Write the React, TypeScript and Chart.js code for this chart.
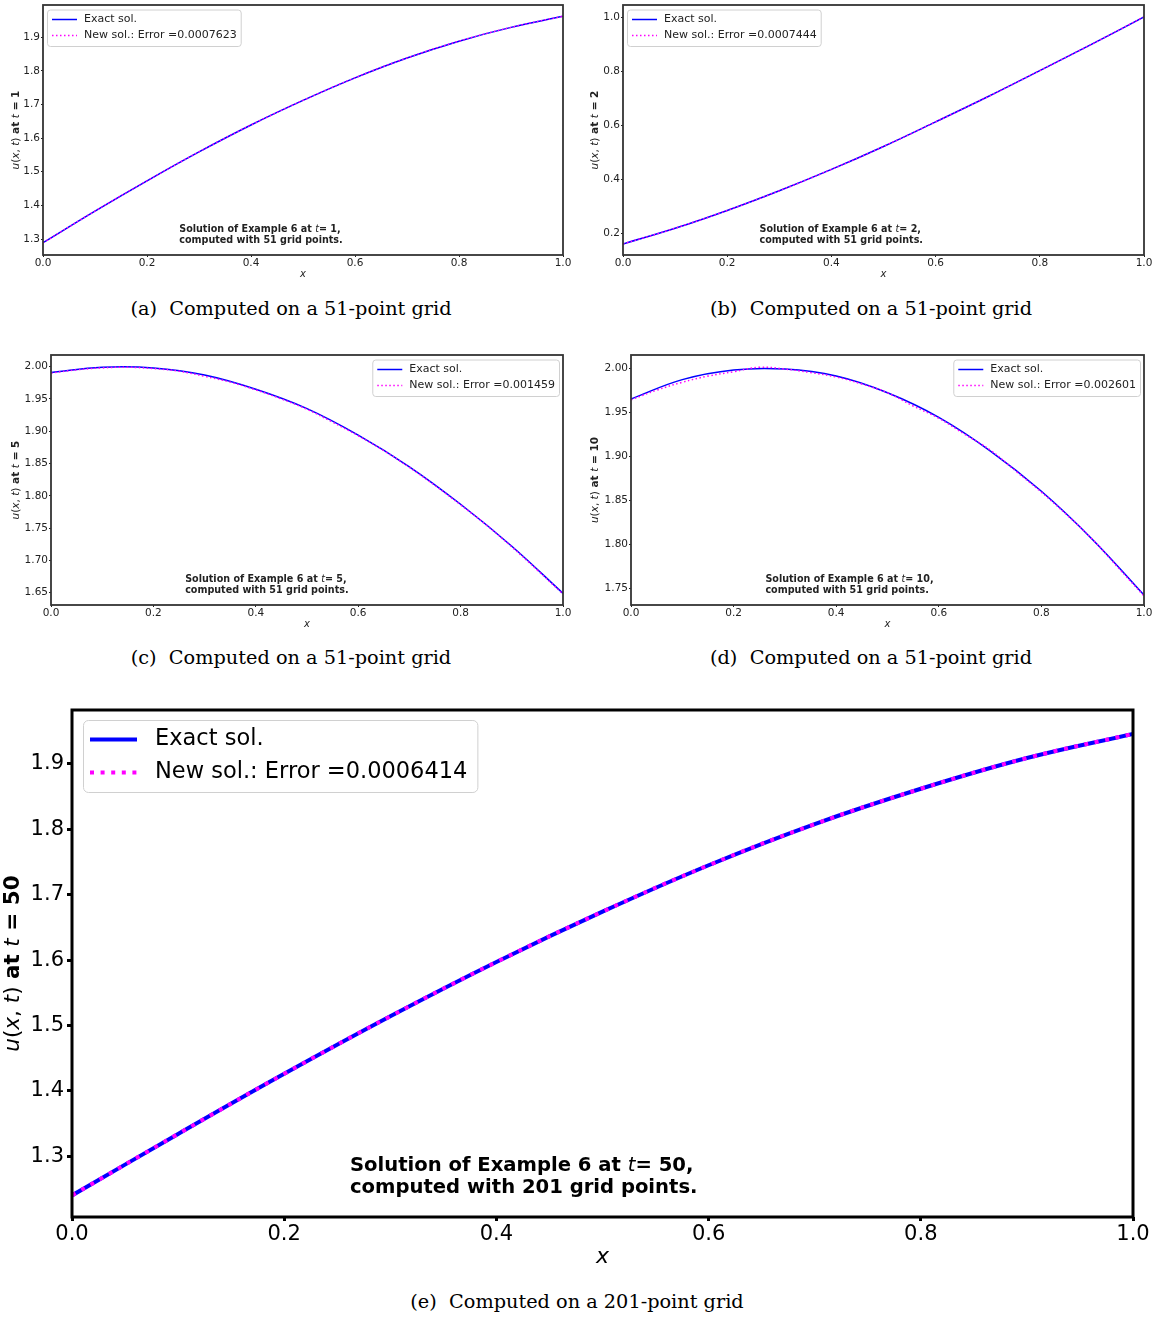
import React, { useEffect, useRef } from "react";
import { Chart, registerables } from "chart.js";

Chart.register(...registerables);

// ---------------- data ----------------
const xCoarse = [0, 0.1, 0.2, 0.3, 0.4, 0.5, 0.6, 0.7, 0.8, 0.9, 1.0];
const xFine = [0, 0.05, 0.1, 0.15, 0.2, 0.25, 0.3, 0.35, 0.4, 0.45, 0.5, 0.55, 0.6, 0.65, 0.7, 0.75, 0.8, 0.85, 0.9, 0.95, 1.0];

// (a) t = 1
const exactT1 = [1.289, 1.383, 1.473, 1.559, 1.639, 1.712, 1.779, 1.838, 1.888, 1.929, 1.962];
const newT1 = [1.289, 1.383, 1.473, 1.559, 1.639, 1.712, 1.779, 1.838, 1.888, 1.929, 1.962];
// (b) t = 2
const exactT2 = [0.161, 0.219, 0.285, 0.358, 0.437, 0.522, 0.613, 0.706, 0.803, 0.901, 1.002];
const newT2 = [0.161, 0.219, 0.285, 0.358, 0.437, 0.522, 0.613, 0.706, 0.803, 0.901, 1.002];
// (c) t = 5
const exactT5 = [1.991, 1.999, 1.998, 1.987, 1.965, 1.935, 1.894, 1.845, 1.787, 1.722, 1.649];
const newT5 = [1.990, 1.995, 1.998, 1.999, 1.997, 1.993, 1.985, 1.976, 1.964, 1.950, 1.934, 1.914, 1.893, 1.870, 1.844, 1.816, 1.786, 1.755, 1.721, 1.685, 1.648];
// (d) t = 10
const exactT10 = [1.965, 1.987, 1.998, 1.999, 1.991, 1.972, 1.944, 1.906, 1.860, 1.805, 1.742];
const newT10 = [1.964, 1.975, 1.984, 1.991, 1.996, 2.001, 1.999, 1.995, 1.990, 1.982, 1.972, 1.957, 1.943, 1.925, 1.907, 1.883, 1.859, 1.833, 1.805, 1.773, 1.741];
// (e) t = 50
const exactT50 = [1.240, 1.334, 1.426, 1.514, 1.597, 1.674, 1.745, 1.808, 1.862, 1.909, 1.946];
const newT50 = [1.240, 1.334, 1.426, 1.514, 1.597, 1.674, 1.745, 1.808, 1.862, 1.909, 1.946];

const errors = ["0.0007623", "0.0007444", "0.001459", "0.002601", "0.0006414"];
const times = ["1", "2", "5", "10", "50"];
const gridPoints = ["51", "51", "51", "51", "201"];
const panelLetters = ["a", "b", "c", "d", "e"];

// ---------------- layout / style ----------------
type Seg = { t: string; s: "i" | "b" | "n" };

const FAMILY = '"DejaVu Sans"';
function fontOf(s: Seg["s"], size: number) {
  const st = s === "i" ? "italic " : "";
  const wt = s === "b" ? "bold " : "";
  return `${st}${wt}${size}px ${FAMILY}`;
}
function richWidth(ctx: CanvasRenderingContext2D, segs: Seg[], size: number) {
  let w = 0;
  for (const sg of segs) {
    ctx.font = fontOf(sg.s, size);
    w += ctx.measureText(sg.t).width;
  }
  return w;
}
function drawRich(ctx: CanvasRenderingContext2D, segs: Seg[], size: number, x: number, y: number, align: "left" | "center", color: string) {
  ctx.textBaseline = "middle";
  ctx.textAlign = "left";
  ctx.fillStyle = color;
  const w = richWidth(ctx, segs, size);
  let cx = align === "center" ? x - w / 2 : x;
  for (const sg of segs) {
    ctx.font = fontOf(sg.s, size);
    ctx.fillText(sg.t, cx, y);
    cx += ctx.measureText(sg.t).width;
  }
}

type PanelCfg = {
  idx: number;
  left: number; top: number; width: number; height: number;
  padTop: number; padRight: number; yAxisW: number; xAxisH: number;
  xsExact: number[]; exact: number[]; xsNew: number[]; newSol: number[];
  yMin: number; yMax: number; yStep: number; yDec: number;
  big: boolean;
  legendCorner: "ul" | "ur";
  yTitleX: number; xTitleY: number;
  captionX: number; captionY: number;
};

const panels: PanelCfg[] = [
  { idx: 0, left: 0, top: 0, width: 580, height: 290, padTop: 5, padRight: 17, yAxisW: 43, xAxisH: 35,
    xsExact: xCoarse, exact: exactT1, xsNew: xCoarse, newSol: newT1,
    yMin: 1.2525, yMax: 1.9955, yStep: 0.1, yDec: 1, big: false, legendCorner: "ul",
    yTitleX: 16, xTitleY: 274, captionX: 291, captionY: 309 },
  { idx: 1, left: 580, top: 0, width: 577, height: 290, padTop: 5, padRight: 13, yAxisW: 43, xAxisH: 35,
    xsExact: xCoarse, exact: exactT2, xsNew: xCoarse, newSol: newT2,
    yMin: 0.120, yMax: 1.046, yStep: 0.2, yDec: 1, big: false, legendCorner: "ul",
    yTitleX: 15, xTitleY: 274, captionX: 871, captionY: 309 },
  { idx: 2, left: 0, top: 340, width: 580, height: 300, padTop: 15, padRight: 17, yAxisW: 51, xAxisH: 35,
    xsExact: xCoarse, exact: exactT5, xsNew: xFine, newSol: newT5,
    yMin: 1.631, yMax: 2.018, yStep: 0.05, yDec: 2, big: false, legendCorner: "ur",
    yTitleX: 16, xTitleY: 284, captionX: 291, captionY: 658 },
  { idx: 3, left: 580, top: 340, width: 577, height: 300, padTop: 15, padRight: 13, yAxisW: 51, xAxisH: 35,
    xsExact: xCoarse, exact: exactT10, xsNew: xFine, newSol: newT10,
    yMin: 1.7307, yMax: 2.015, yStep: 0.05, yDec: 2, big: false, legendCorner: "ur",
    yTitleX: 15, xTitleY: 284, captionX: 871, captionY: 658 },
  { idx: 4, left: 0, top: 690, width: 1157, height: 590, padTop: 20, padRight: 24, yAxisW: 72, xAxisH: 63,
    xsExact: xCoarse, exact: exactT50, xsNew: xCoarse, newSol: newT50,
    yMin: 1.207, yMax: 1.9825, yStep: 0.1, yDec: 1, big: true, legendCorner: "ul",
    yTitleX: 13, xTitleY: 567, captionX: 577, captionY: 1302 },
];

function makeDecor(cfg: PanelCfg) {
  const big = cfg.big;
  const textColor = big ? "#000" : "#222";
  const T = times[cfg.idx];
  return {
    id: "decor" + cfg.idx,
    afterDraw(chart: any) {
      const ctx: CanvasRenderingContext2D = chart.ctx;
      const ca = chart.chartArea;
      const W = ca.right - ca.left;
      const H = ca.bottom - ca.top;
      ctx.save();
      // frame
      ctx.strokeStyle = big ? "#000" : "#333";
      ctx.lineWidth = big ? 3 : 1.8;
      ctx.setLineDash([]);
      ctx.strokeRect(ca.left, ca.top, W, H);

      // annotation
      const aSize = big ? 19.6 : 9.6;
      const ax = ca.left + 0.262 * W;
      drawRich(ctx, [{ t: "Solution of Example 6 at ", s: "b" }, { t: "t", s: "i" }, { t: "= " + T + ",", s: "b" }], aSize, ax, ca.bottom - 0.101 * H, "left", textColor);
      drawRich(ctx, [{ t: `computed with ${gridPoints[cfg.idx]} grid points.`, s: "b" }], aSize, ax, ca.bottom - 0.057 * H, "left", textColor);

      // x title
      drawRich(ctx, [{ t: "x", s: "i" }], big ? 22 : 10, (ca.left + ca.right) / 2, cfg.xTitleY, "center", textColor);

      // y title (rotated)
      ctx.save();
      ctx.translate(cfg.yTitleX, (ca.top + ca.bottom) / 2);
      ctx.rotate(-Math.PI / 2);
      drawRich(ctx, [
        { t: "u", s: "i" }, { t: "(", s: "n" }, { t: "x", s: "i" }, { t: ", ", s: "n" }, { t: "t", s: "i" }, { t: ")", s: "n" },
        { t: " at ", s: "b" }, { t: "t", s: "i" }, { t: " = " + T, s: "b" },
      ], big ? 21.5 : 10.5, 0, 0, "center", textColor);
      ctx.restore();

      // legend
      const lSize = big ? 22.5 : 11;
      const labels = ["Exact sol.", "New sol.: Error =" + errors[cfg.idx]];
      ctx.font = `${lSize}px ${FAMILY}`;
      const tw = Math.max(...labels.map((l) => ctx.measureText(l).width));
      const textX = big ? 72 : 37;
      const s0 = big ? 7 : 5;
      const s1 = big ? 54 : 30;
      const padR = big ? 10 : 4;
      const bw = textX + tw + padR;
      const bh = big ? 72 : 36.5;
      const bx = cfg.legendCorner === "ul" ? ca.left + (big ? 11 : 4) : ca.right - 4 - bw;
      const by = ca.top + (big ? 10 : 4.5);
      const rows = big ? [19.5, 52.5] : [10, 26];
      ctx.beginPath();
      (ctx as any).roundRect(bx + 0.5, by + 0.5, bw, bh, big ? 5 : 3);
      ctx.fillStyle = "rgba(255,255,255,0.8)";
      ctx.fill();
      ctx.strokeStyle = "#d0d0d0";
      ctx.lineWidth = 1;
      ctx.stroke();
      const dsets = chart.data.datasets;
      for (let i = 0; i < 2; i++) {
        const ds = dsets[i];
        ctx.beginPath();
        ctx.strokeStyle = ds.borderColor;
        ctx.lineWidth = ds.borderWidth;
        ctx.setLineDash(ds.borderDash || []);
        ctx.lineCap = "butt";
        ctx.moveTo(bx + s0, by + rows[i]);
        ctx.lineTo(bx + s1, by + rows[i]);
        ctx.stroke();
        ctx.setLineDash([]);
        ctx.fillStyle = textColor;
        ctx.font = `${lSize}px ${FAMILY}`;
        ctx.textBaseline = "middle";
        ctx.textAlign = "left";
        ctx.fillText(labels[i], bx + textX, by + rows[i]);
      }
      ctx.restore();
    },
  };
}

function PanelChart({ cfg }: { cfg: PanelCfg }) {
  const ref = useRef<HTMLCanvasElement | null>(null);
  useEffect(() => {
    const big = cfg.big;
    const lw = big ? 4 : 1.5;
    const tickFont = { family: "DejaVu Sans", size: big ? 21 : 10.5 };
    const tickColor = big ? "#000" : "#222";
    const chart = new Chart(ref.current as HTMLCanvasElement, {
      type: "line",
      data: {
        datasets: [
          {
            label: "Exact sol.",
            data: cfg.xsExact.map((x, i) => ({ x, y: cfg.exact[i] })),
            borderColor: "#0000ff",
            borderWidth: lw,
            pointRadius: 0,
            tension: 0.4,
            fill: false,
            order: 2,
          },
          {
            label: "New sol.: Error =" + errors[cfg.idx],
            data: cfg.xsNew.map((x, i) => ({ x, y: cfg.newSol[i] })),
            borderColor: "#ff00ff",
            borderWidth: lw,
            borderDash: big ? [4, 6.6] : [1.5, 2.5],
            borderCapStyle: "butt",
            pointRadius: 0,
            tension: 0.4,
            fill: false,
            order: 1,
          },
        ],
      },
      options: {
        responsive: false,
        animation: false,
        devicePixelRatio: 1,
        events: [],
        layout: { padding: { left: 0, top: cfg.padTop, right: cfg.padRight, bottom: 0 } },
        plugins: { legend: { display: false }, tooltip: { enabled: false }, title: { display: false } },
        scales: {
          x: {
            type: "linear",
            min: 0,
            max: 1,
            border: { display: false },
            grid: { drawOnChartArea: false, drawTicks: true, tickLength: big ? 4 : 2, tickWidth: big ? 3 : 1, tickColor: tickColor, color: tickColor },
            ticks: {
              stepSize: 0.2,
              includeBounds: false,
              autoSkip: false,
              maxRotation: 0,
              padding: big ? 0.5 : -0.5,
              color: tickColor,
              font: tickFont,
              callback: (v: any) => Number(v).toFixed(1),
            },
            afterFit: (s: any) => {
              s.height = cfg.xAxisH;
              s.paddingLeft = 0; s.paddingRight = 0; s.paddingTop = 0; s.paddingBottom = 0;
            },
          },
          y: {
            type: "linear",
            min: cfg.yMin,
            max: cfg.yMax,
            border: { display: false },
            grid: { drawOnChartArea: false, drawTicks: true, tickLength: big ? 5 : 2, tickWidth: big ? 3 : 1, tickColor: tickColor, color: tickColor },
            ticks: {
              stepSize: cfg.yStep,
              includeBounds: false,
              autoSkip: false,
              padding: big ? 3 : 1,
              color: tickColor,
              font: tickFont,
              callback: (v: any) => Number(v).toFixed(cfg.yDec),
            },
            afterFit: (s: any) => {
              s.width = cfg.yAxisW;
              s.paddingLeft = 0; s.paddingRight = 0; s.paddingTop = 0; s.paddingBottom = 0;
            },
          },
        },
      } as any,
      plugins: [makeDecor(cfg)],
    });
    return () => chart.destroy();
  }, []);
  return (
    <canvas
      ref={ref}
      width={cfg.width}
      height={cfg.height}
      style={{ position: "absolute", left: cfg.left, top: cfg.top, width: cfg.width, height: cfg.height }}
    />
  );
}

export default function App() {
  return (
    <div style={{ position: "absolute", left: 0, top: 0, width: 1157, height: 1317, background: "#fff", overflow: "hidden" }}>
      {panels.map((p) => (
        <PanelChart key={p.idx} cfg={p} />
      ))}
      {panels.map((p) => (
        <div
          key={"cap" + p.idx}
          style={{
            position: "absolute",
            left: p.captionX - 300,
            top: p.captionY - 12,
            width: 600,
            height: 24,
            lineHeight: "24px",
            textAlign: "center",
            fontFamily: '"DejaVu Serif", serif',
            fontSize: 19.3,
            color: "#000",
            whiteSpace: "pre",
          }}
        >
          {`(${panelLetters[p.idx]})  Computed on a ${gridPoints[p.idx]}-point grid`}
        </div>
      ))}
    </div>
  );
}
